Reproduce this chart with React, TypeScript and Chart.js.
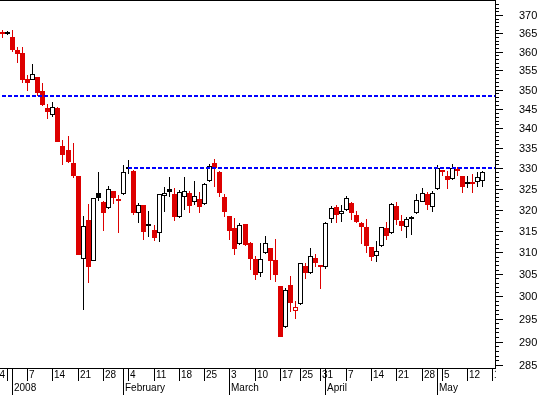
import { useEffect, useRef } from "react";
import { Chart, registerables, LinearScale, LogarithmicScale } from "chart.js";

// ---- data: daily candles (28 Dec 2007 .. 15 May 2008) ----
const opens = [
  364.8, 365.3, 364.0, 360.5, 359.6, 352.8, 352.6, 353.3, 349.6, 345.3,
  343.5, 345.3, 335.6, 334.6, 331.3, 328.1, 308.4, 317.5, 308.1, 324.1,
  321.9, 320.3, 324.5, 322.0, 323.7, 330.1, 329.4, 319.3, 321.1, 316.3,
  315.2, 314.4, 323.3, 324.9, 323.8, 318.2, 323.1, 324.1, 321.9, 322.6,
  321.3, 326.8, 331.3, 329.2, 323.0, 318.5, 315.6, 311.9, 316.6, 312.2,
  308.4, 305.3, 309.8, 310.9, 308.2, 302.2, 293.1, 302.5, 296.8, 298.2,
  306.9, 305.2, 308.6, 306.9, 306.6, 317.7, 320.6, 318.9, 319.9, 321.5,
  318.7, 316.9, 315.8, 311.2, 309.2, 311.5, 315.6, 314.4, 320.9, 317.2,
  315.9, 317.7, 319.1, 321.9, 323.8, 320.7, 324.9, 329.4, 328.1, 327.3,
  329.4, 328.1, 326.1, 326.5, 326.6, 327.0,
];
const highs = [
  365.9, 365.5, 365.9, 361.3, 361.3, 353.8, 356.7, 353.4, 351.7, 346.3,
  346.8, 345.5, 337.1, 338.1, 336.2, 328.2, 318.5, 321.4, 322.8, 329.2,
  322.0, 325.7, 324.6, 323.5, 330.9, 332.1, 329.5, 321.7, 321.2, 319.7,
  316.4, 323.8, 325.4, 328.0, 325.2, 324.7, 327.8, 324.6, 326.9, 324.3,
  326.5, 331.0, 332.3, 329.3, 323.8, 318.6, 318.0, 316.9, 316.7, 312.3,
  309.2, 312.2, 313.8, 311.0, 313.0, 302.3, 301.8, 304.6, 299.0, 307.6,
  307.6, 310.9, 309.6, 307.0, 317.0, 320.9, 321.1, 321.1, 323.3, 321.8,
  319.7, 317.1, 317.9, 311.3, 312.5, 316.0, 317.1, 321.5, 321.8, 318.7,
  318.2, 318.5, 323.8, 325.3, 324.3, 324.6, 330.9, 329.5, 329.4, 331.1,
  330.3, 328.2, 328.1, 328.6, 329.1, 329.3,
];
const lows = [
  363.7, 364.6, 360.0, 357.0, 351.8, 349.5, 352.4, 348.2, 345.7, 342.3,
  342.9, 336.5, 330.9, 331.4, 327.7, 309.3, 296.9, 303.0, 308.0, 322.1,
  314.9, 320.2, 321.4, 314.6, 323.6, 328.6, 318.7, 316.9, 312.8, 313.6,
  312.6, 312.4, 319.5, 323.1, 317.4, 318.1, 319.9, 319.3, 321.1, 319.3,
  321.2, 326.7, 325.5, 323.0, 318.3, 312.8, 309.4, 311.7, 311.5, 305.9,
  303.7, 304.4, 309.7, 303.7, 303.3, 291.0, 293.0, 296.4, 294.9, 298.1,
  303.9, 305.1, 306.6, 301.6, 306.1, 316.9, 316.9, 317.1, 319.8, 317.5,
  316.8, 311.9, 309.9, 308.1, 307.8, 311.3, 312.8, 314.3, 316.4, 315.0,
  313.2, 314.0, 319.0, 321.8, 320.0, 319.5, 324.8, 328.1, 325.0, 327.1,
  328.1, 323.9, 325.2, 323.9, 325.4, 325.4,
];
const closes = [
  364.7, 364.9, 360.5, 359.5, 352.5, 351.8, 354.0, 349.2, 346.0, 344.3,
  345.5, 336.6, 333.2, 331.6, 328.1, 309.4, 316.1, 306.7, 322.7, 322.9,
  319.3, 325.0, 322.8, 322.6, 329.1, 329.8, 319.3, 321.1, 314.8, 316.1,
  313.2, 323.7, 323.9, 324.3, 318.2, 324.2, 324.6, 320.9, 323.3, 320.7,
  326.2, 330.6, 330.0, 324.1, 319.5, 315.0, 310.8, 316.4, 311.7, 308.5,
  304.8, 308.4, 312.1, 308.1, 304.8, 291.1, 301.4, 298.4, 297.5, 307.5,
  305.3, 309.2, 307.5, 306.6, 316.8, 320.3, 318.7, 319.8, 322.7, 319.3,
  317.1, 316.0, 311.5, 309.0, 310.3, 315.8, 313.9, 321.4, 317.5, 316.2,
  317.8, 318.2, 322.3, 324.1, 321.2, 323.9, 330.0, 329.0, 327.2, 330.0,
  329.9, 325.5, 326.6, 326.3, 327.8, 329.2,
];
const priorClose = 366.0;

// ---- axis labels ----
const weekTickIndex = [-2, 1, 5, 10, 15, 20, 25, 30, 35, 40, 45, 50, 55, 59, 63, 68, 73, 78, 83, 87, 92, 97];
const weekTickLabels = ["24", "", "7", "14", "21", "28", "4", "11", "18", "25", "3", "10", "17", "25", "31", "7", "14", "21", "28", "5", "12", "19"];
const monthTickIndex = [2, 24, 45, 64, 86];
const monthTickLabels = ["2008", "February", "March", "April", "May"];
const yTickValues = [285, 290, 295, 300, 305, 310, 315, 320, 325, 330, 335, 340, 345, 350, 355, 360, 365, 370];

// ---- horizontal reference levels ----
const levelValues = [348.5, 330.3];
const levelStartIndex = [0, 25];

const RED = "#dd0000";
const BLACK = "#000000";
const BLUE = "#0000ff";

class PixelLinearScale extends LinearScale {
  static id = "pixelLinear";
  static defaults = {};
  getPixelForValue(value: number) {
    const p = super.getPixelForValue(value);
    return Math.round(p - 0.5) + 0.5;
  }
}
class PixelLogScale extends LogarithmicScale {
  static id = "pixelLog";
  static defaults = {};
  getPixelForValue(value: number) {
    return Math.round(super.getPixelForValue(value));
  }
}

Chart.register(...registerables, PixelLinearScale as any, PixelLogScale as any);

const framePlugin = {
  id: "frame",
  afterDatasetsDraw(chart: any) {
    const { ctx, chartArea: a, scales } = chart;
    const xs = scales.x;
    const ys = scales.y;
    ctx.save();
    // dashed levels
    ctx.strokeStyle = BLUE;
    ctx.lineWidth = 2;
    ctx.setLineDash([4, 2]);
    levelValues.forEach((v, k) => {
      const y = ys.getPixelForValue(v) + 1;
      const x0 = xs.getPixelForValue(levelStartIndex[k]) - 0.5;
      ctx.beginPath();
      ctx.moveTo(x0, y);
      ctx.lineTo(a.right, y);
      ctx.stroke();
    });
    ctx.setLineDash([]);
    ctx.lineWidth = 1;
    ctx.strokeStyle = BLACK;
    ctx.beginPath();
    ctx.moveTo(a.left, a.top + 0.5);
    ctx.lineTo(a.right + 1, a.top + 0.5);
    ctx.moveTo(a.right + 0.5, a.top);
    ctx.lineTo(a.right + 0.5, a.bottom + 1);
    ctx.moveTo(a.left, a.bottom + 0.5);
    ctx.lineTo(a.right + 1, a.bottom + 0.5);
    // y ticks
    for (let v = 285; v <= 373; v++) {
      const y = ys.getPixelForValue(v) + 0.5;
      const len = v % 5 === 0 ? 7 : 3;
      ctx.moveTo(a.right + 1, y);
      ctx.lineTo(a.right + 1 + len, y);
    }
    ctx.stroke();
    ctx.fillStyle = BLACK;
    ctx.font = '11px "Liberation Sans", Arial, sans-serif';
    ctx.textAlign = "left";
    ctx.textBaseline = "middle";
    yTickValues.forEach((v) => {
      ctx.fillText(String(v), 519, ys.getPixelForValue(v) + 0.5);
    });
    // x axis (clipped to plot width)
    ctx.save();
    ctx.beginPath();
    ctx.rect(0, a.bottom, a.right + 1, chart.height - a.bottom);
    ctx.clip();
    ctx.beginPath();
    weekTickIndex.forEach((i) => {
      const x = xs.getPixelForValue(i);
      ctx.moveTo(x, a.bottom);
      ctx.lineTo(x, a.bottom + 13);
    });
    monthTickIndex.forEach((i) => {
      const x = xs.getPixelForValue(i);
      ctx.moveTo(x, a.bottom);
      ctx.lineTo(x, chart.height);
    });
    ctx.stroke();
    ctx.font = '10px "Liberation Sans", Arial, sans-serif';
    weekTickIndex.forEach((i, k) => {
      const x = xs.getPixelForValue(i);
      ctx.fillText(weekTickLabels[k], x + 1.5, a.bottom + 7);
    });
    monthTickIndex.forEach((i, k) => {
      const x = xs.getPixelForValue(i);
      ctx.fillText(monthTickLabels[k], x + 1.5, a.bottom + 20);
    });
    ctx.restore();
    ctx.restore();
  },
};

export default function App() {
  const ref = useRef<HTMLCanvasElement>(null);
  useEffect(() => {
    const canvas = ref.current;
    if (!canvas) return;
    const idx = closes.map((_, i) => i);
    const lineColor = closes.map((c, i) => (c >= (i === 0 ? priorClose : closes[i - 1]) ? BLACK : RED));
    const bodyFill = closes.map((c, i) => (c > opens[i] ? "#ffffff" : lineColor[i]));
    const chart = new Chart(canvas, {
      type: "bar",
      data: {
        datasets: [
          {
            label: "body",
            data: idx.map((i) => ({ x: i, y: [opens[i], closes[i]] })) as any,
            backgroundColor: bodyFill,
            borderColor: lineColor,
            borderWidth: 1,
            borderSkipped: false,
            barThickness: 5,
            minBarLength: 2,
            grouped: false,
            inflateAmount: 0,
            order: 1,
          } as any,
          {
            label: "wick",
            data: idx.map((i) => ({ x: i, y: [lows[i], highs[i]] })) as any,
            backgroundColor: lineColor,
            borderWidth: 0,
            barThickness: 1,
            grouped: false,
            inflateAmount: 0,
            order: 2,
          } as any,
        ],
      },
      options: {
        responsive: false,
        animation: false,
        devicePixelRatio: 1,
        events: [],
        layout: { padding: { left: 0, top: 0, right: 47, bottom: 27 } },
        plugins: { legend: { display: false }, tooltip: { enabled: false } },
        scales: {
          x: {
            type: "pixelLinear",
            min: -0.455,
            max: 97.43,
            display: false,
            bounds: "data",
            offset: false,
            grid: { offset: false },
          } as any,
          y: { type: "pixelLog", min: 284.37, max: 374.16, display: false } as any,
        },
      },
      plugins: [framePlugin],
    });
    return () => chart.destroy();
  }, []);
  return (
    <div style={{ position: "fixed", left: 0, top: 0, width: 542, height: 395, background: "#fff" }}>
      <canvas ref={ref} width={542} height={395} style={{ display: "block" }} />
    </div>
  );
}
